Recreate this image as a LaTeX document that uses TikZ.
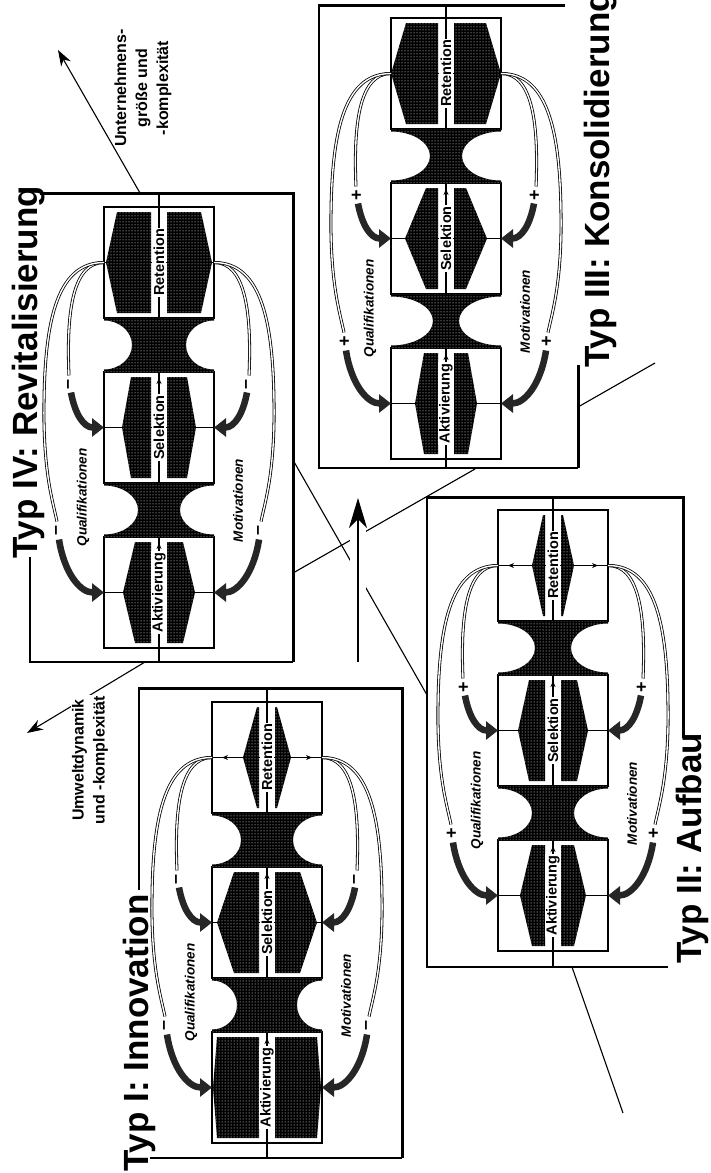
\documentclass[tikz,border=0pt]{standalone}
\usepackage{fontspec}
\setmainfont{Liberation Sans}
\usetikzlibrary{arrows.meta,patterns,calc}

\tikzset{
  thinln/.style={line width=1.1pt},
  framethick/.style={line width=3pt},
  boxstyle/.style={draw, line width=1.4pt, minimum width=110pt, minimum height=111pt, inner sep=0pt, outer sep=0pt},
  titlestyle/.style={font=\fontsize{35}{40}\selectfont\bfseries, rotate=90, anchor=base west, inner sep=0pt},
  boxlabel/.style={font=\fontsize{14.5}{16}\selectfont\bfseries, rotate=90, fill=white, inner sep=1.2pt},
  sidelabel/.style={font=\fontsize{13.5}{16}\selectfont\bfseries\itshape, rotate=90, inner sep=1pt},
  signlabel/.style={font=\fontsize{18}{18}\selectfont\bfseries, rotate=90, fill=white, inner sep=0.6pt},
  halftone/.style={fill=black, postaction={pattern=dots, pattern color=white}},
  thincurve/.style={draw=black, line width=0.8pt, double=white, double distance=1.4pt},
  thickarr/.style={draw=black!85, line width=6.5pt, -{Triangle[length=12pt,width=18pt]}},
  axislabel/.style={font=\fontsize{16}{21}\selectfont\bfseries, rotate=90, align=center, inner sep=1pt},
  smallarr/.style={thinln, -{Stealth[length=6pt,width=5pt]}},
  axisarr/.style={thinln, -{Stealth[length=16pt,width=11pt,inset=5pt]}},
}

\pgfkeys{/panel/.is family, /panel/.cd,
  cx/.store in=\pcx, T/.store in=\pT, ft/.store in=\pft, fb/.store in=\pfb,
  sign/.store in=\psign,
  ra/.store in=\pra, rb/.store in=\prb, sa/.store in=\psa, sb/.store in=\psb,
  aa/.store in=\paa, ab/.store in=\pab, hwa/.store in=\phwa, hwb/.store in=\phwb}

% halftone shapes left and right of the centre line
\newcommand\pshape[4]{%
  \pgfmathsetmacro\shtop{(#1)+5}%
  \pgfmathsetmacro\shbot{(#2)-5}%
  \pgfmathsetmacro\shm{((#1)+(#2))/2}%
  \path[halftone] (\pcx-8,\shtop) -- (\pcx-#3,\shtop) -- (\pcx-#4,\shm) -- (\pcx-#3,\shbot) -- (\pcx-8,\shbot) -- cycle;
  \path[halftone] (\pcx+8,\shtop) -- (\pcx+#3,\shtop) -- (\pcx+#4,\shm) -- (\pcx+#3,\shbot) -- (\pcx+8,\shbot) -- cycle;
}
% hourglass between two boxes
\newcommand\phour[3]{%
  \pgfmathsetmacro\hgya{#1}%
  \pgfmathsetmacro\hgyb{#2}%
  \pgfmathsetmacro\hgm{(\hgya+\hgyb)/2}%
  \pgfmathsetmacro\hgrx{55-(#3)}%
  \pgfmathsetmacro\hgry{(\hgyb-\hgya)/2-2.5}%
  \path[halftone] (\pcx-55,\hgya) -- (\pcx+55,\hgya) -- (\pcx+55,\hgm-\hgry)
     arc[start angle=90,end angle=270,x radius=\hgrx pt,y radius=\hgry pt]
     -- (\pcx+55,\hgyb) -- (\pcx-55,\hgyb) -- (\pcx-55,\hgm+\hgry)
     arc[start angle=-90,end angle=90,x radius=\hgrx pt,y radius=\hgry pt] -- cycle;
}
% curved feedback arrows on one side
\newcommand\sidecurves[3]{%
  \draw[thincurve] (#1R.#2) .. controls ($(#1R.#2)+(#3*30,0)$) and ($(#1R.#2)+(#3*38,45)$) .. ($(#1R.#2)+(#3*35,113)$);
  \draw[thincurve] (#1R.#2) .. controls ($(#1R.#2)+(#3*48,0)$) and ($(#1R.#2)+(#3*61,60)$) .. ($(#1R.#2)+(#3*60,160)$)
      .. controls ($(#1R.#2)+(#3*59,215)$) and ($(#1R.#2)+(#3*51,240)$) .. ($(#1R.#2)+(#3*47,259)$);
  \draw[thickarr] ($(#1R.#2)+(#3*33,130)$) .. controls ($(#1R.#2)+(#3*29,152)$) and ($(#1S.#2)+(#3*20,0)$) .. (#1S.#2);
  \draw[thickarr] ($(#1R.#2)+(#3*45,277)$) .. controls ($(#1R.#2)+(#3*40,310)$) and ($(#1A.#2)+(#3*24,0)$) .. (#1A.#2);
  \node[signlabel] at ($(#1R.#2)+(#3*34,122)$) {\psign};
  \node[signlabel] at ($(#1R.#2)+(#3*46,268)$) {\psign};
}
\newcommand\drawpanel[2]{%
  \pgfkeys{/panel/.cd,#2}%
  \coordinate (#1top) at (\pcx,\pft);
  \coordinate (#1bot) at (\pcx,\pfb);
  \node[boxstyle] (#1R) at (\pcx,\pT+55.5) {};
  \node[boxstyle] (#1S) at (\pcx,\pT+220.5) {};
  \node[boxstyle] (#1A) at (\pcx,\pT+385.5) {};
  \draw[thinln] (#1top) -- (#1bot);
  \draw[thinln] (#1R.west) -- (#1R.east);
  \draw[thinln] (#1S.west) -- (#1S.east);
  \draw[thinln] (#1A.west) -- (#1A.east);
  \draw[smallarr] (#1R.center) -- ($(#1R.center)+(-45,0)$);
  \draw[smallarr] (#1R.center) -- ($(#1R.center)+(45,0)$);
  \phour{\pT+111}{\pT+165}{\phwa}
  \phour{\pT+276}{\pT+330}{\phwb}
  \pshape{\pT}{\pT+111}{\pra}{\prb}
  \pshape{\pT+165}{\pT+276}{\psa}{\psb}
  \pshape{\pT+330}{\pT+441}{\paa}{\pab}
  \draw[smallarr] (#1S.south) -- ($(#1S.north)+(0,6)$);
  \draw[smallarr] (#1A.south) -- ($(#1A.north)+(0,6)$);
  \node[boxlabel] (#1Rl) at (#1R) {Retention};
  \node[boxlabel] (#1Sl) at (#1S) {Selektion};
  \node[boxlabel] (#1Al) at (#1A) {Aktivierung};
  \sidecurves{#1}{west}{-1}
  \sidecurves{#1}{east}{1}
  \node[sidelabel] (#1Q) at ($(#1R.west)+(-21,235)$) {Qualifikationen};
  \node[sidelabel] (#1M) at ($(#1R.east)+(24,238)$) {Motivationen};
}

\begin{document}
\begin{tikzpicture}[x=1pt,y=-1pt]
\useasboundingbox (0,0) rectangle (710,1173);
\fill[white] (0,0) rectangle (710,1173);

% ---------- frames ----------
% Typ IV
\draw[thinln] (30,557) -- (30,662) -- (293,662);
\draw[framethick] (40,193) -- (293,193) -- (293,662);
% Typ III
\draw[thinln] (578,468) -- (319,468) -- (319,5);
\draw[framethick] (318,5) -- (565,5);
\draw[framethick] (578,365) -- (578,468);
% Typ II
\draw[thinln] (668,967) -- (427,967) -- (427,497);
\draw[framethick] (426,497) -- (683,497) -- (683,738);
% Typ I
\draw[thinln] (139,890) -- (139,688);
\draw[thinln] (150,1158) -- (402,1158);
\draw[framethick] (138,688) -- (402,688) -- (402,1158);

% ---------- titles ----------
\node[titlestyle] (t4) at (37,559) {Typ IV: Revitalisierung};
\node[titlestyle] (t3) at (609,368) {Typ III: Konsolidierung};
\node[titlestyle] (t2) at (701,964) {Typ II: Aufbau};
\node[titlestyle] (t1) at (148,1172) {Typ I: Innovation};

% ---------- connecting lines ----------
\coordinate (d1a) at (293,573); \coordinate (d1b) at (475,469);
\coordinate (d2a) at (293,460); \coordinate (d2b) at (427,695);
\draw[thinln] (d1a) -- (d1b);
\draw[thinln] (d2a) -- (d2b);
\coordinate (l3a) at (578,407); \coordinate (l3b) at (655,363);
\draw[thinln] (l3a) -- (l3b);
\coordinate (l2a) at (572,967); \coordinate (l2b) at (623,1113);
\draw[thinln] (l2a) -- (l2b);
\coordinate (cA) at (358,662); \coordinate (cB) at (358,498);
\draw[white, line width=16pt] (358,655) -- (358,510);
\draw[thinln, -{Stealth[length=30pt,width=18pt,inset=9pt]}] (cA) -- (cB);

% ---------- axis labels ----------
\coordinate (ugA) at (140,193); \coordinate (ugB) at (58,50);
\draw[axisarr] (ugA) -- (ugB);
\node[axislabel] (UG) at (143,88) {Unternehmens-\\größe und\\-komplexität};
\coordinate (udA) at (145,662); \coordinate (udB) at (27,733);
\draw[axisarr] (udA) -- (udB);
\node[axislabel, fill=white] (UD) at (90,760) {Umweltdynamik\\und -komplexität};

% ---------- panels ----------
\drawpanel{IV}{cx=159,T=207,ft=193,fb=662,sign={–},ra=42,rb=53,sa=28,sb=37,aa=24,ab=36,hwa=27,hwb=21}
\drawpanel{III}{cx=446,T=18,ft=5,fb=468,sign={+},ra=40,rb=55,sa=20,sb=41,aa=22,ab=31,hwa=16,hwb=13}
\drawpanel{II}{cx=553,T=510,ft=497,fb=967,sign={+},ra=10,rb=21,sa=24,sb=35,aa=21,ab=33,hwa=18,hwb=21}
\drawpanel{I}{cx=267,T=702,ft=688,fb=1158,sign={–},ra=10,rb=24,sa=33,sb=50,aa=50,ab=54,hwa=26,hwb=30}
\end{tikzpicture}
\end{document}
